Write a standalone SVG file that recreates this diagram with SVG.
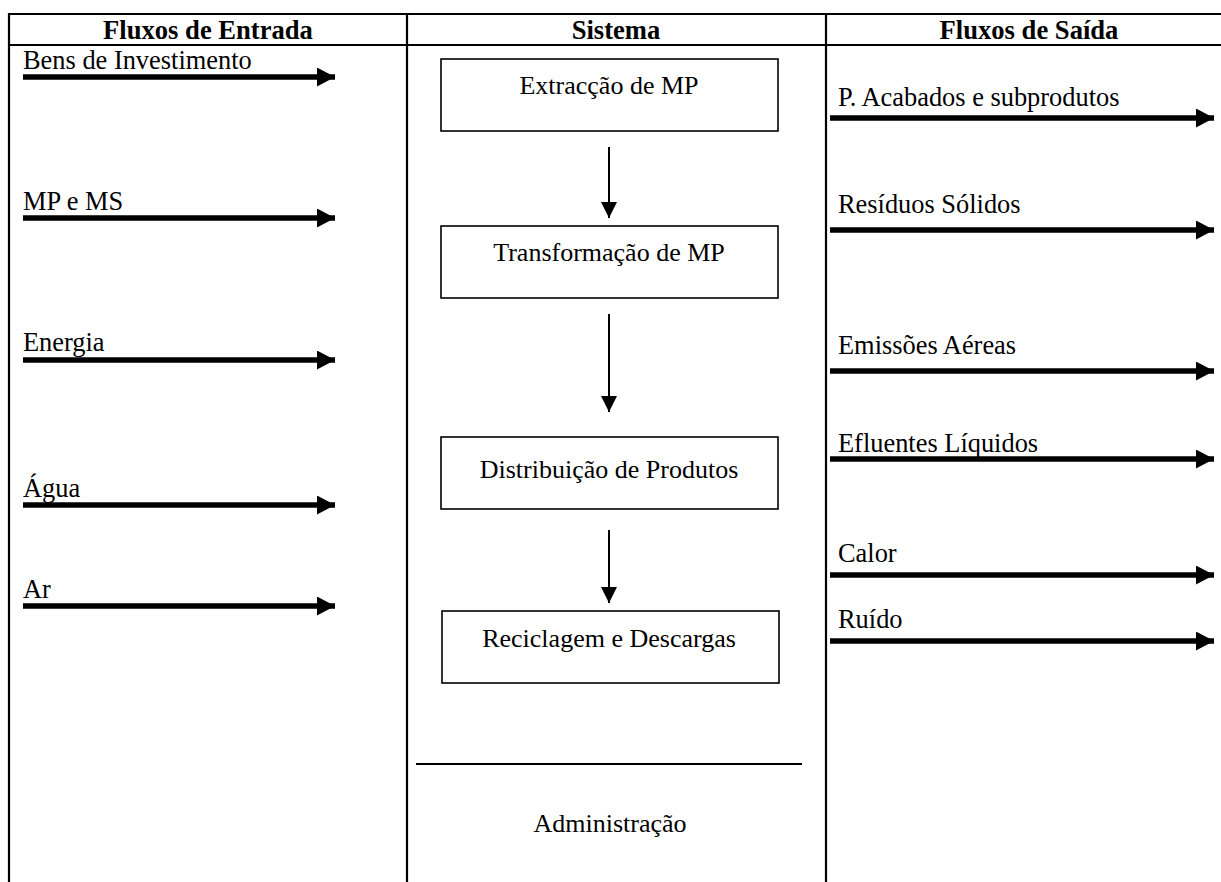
<svg xmlns="http://www.w3.org/2000/svg" width="1221" height="882" viewBox="0 0 1221 882">
<style>
text{font-family:"Liberation Serif","Times New Roman",serif;fill:#000}
.h{font-size:26.6px;font-weight:bold;text-anchor:middle}
.l{font-size:26.4px}
.c{font-size:26px;text-anchor:middle}
.grid{stroke:#000;stroke-width:2.2;fill:none}
.box{stroke:#000;stroke-width:1.6;fill:#fff}
.fat{stroke:#000;stroke-width:5.5}
.thin{stroke:#000;stroke-width:2}
</style>
<defs>
<marker id="big" markerUnits="userSpaceOnUse" markerWidth="18" markerHeight="20" refX="18" refY="9.5" orient="auto"><path d="M0,0 L18,9.5 L0,19 Z" fill="#000"/></marker>
<marker id="small" markerUnits="userSpaceOnUse" markerWidth="16" markerHeight="16" refX="16" refY="8" orient="auto"><path d="M0,0 L16,8 L0,16 Z" fill="#000"/></marker>
</defs>
<rect width="1221" height="882" fill="#fff"/>
<g id="table">
<line class="grid" x1="9" y1="14" x2="1221" y2="14"/>
<line class="grid" x1="9" y1="45" x2="1221" y2="45"/>
<line class="grid" x1="9" y1="13" x2="9" y2="882"/>
<line class="grid" x1="407" y1="13" x2="407" y2="882"/>
<line class="grid" x1="826" y1="13" x2="826" y2="882"/>
<text class="h" x="208" y="39">Fluxos de Entrada</text>
<text class="h" x="616" y="39">Sistema</text>
<text class="h" x="1029" y="39">Fluxos de Saída</text>
</g>
<g id="connectors">
<line class="fat" x1="23" y1="77" x2="335" y2="77" marker-end="url(#big)"/>
<line class="fat" x1="23" y1="218" x2="335" y2="218" marker-end="url(#big)"/>
<line class="fat" x1="23" y1="360" x2="335" y2="360" marker-end="url(#big)"/>
<line class="fat" x1="23" y1="505" x2="335" y2="505" marker-end="url(#big)"/>
<line class="fat" x1="23" y1="606" x2="335" y2="606" marker-end="url(#big)"/>
<line class="fat" x1="830" y1="118" x2="1214" y2="118" marker-end="url(#big)"/>
<line class="fat" x1="830" y1="230" x2="1214" y2="230" marker-end="url(#big)"/>
<line class="fat" x1="830" y1="371" x2="1214" y2="371" marker-end="url(#big)"/>
<line class="fat" x1="830" y1="459" x2="1214" y2="459" marker-end="url(#big)"/>
<line class="fat" x1="830" y1="575" x2="1214" y2="575" marker-end="url(#big)"/>
<line class="fat" x1="830" y1="641" x2="1214" y2="641" marker-end="url(#big)"/>
<line class="thin" x1="609" y1="147" x2="609" y2="218" marker-end="url(#small)"/>
<line class="thin" x1="609" y1="314" x2="609" y2="412" marker-end="url(#small)"/>
<line class="thin" x1="609" y1="530" x2="609" y2="603" marker-end="url(#small)"/>
</g>
<g id="inputs">
<text class="l" x="23" y="69">Bens de Investimento</text>
<text class="l" x="23" y="210">MP e MS</text>
<text class="l" x="23" y="351">Energia</text>
<text class="l" x="23" y="497">Água</text>
<text class="l" x="23" y="598">Ar</text>
</g>
<g id="outputs">
<text class="l" x="838" y="106">P. Acabados e subprodutos</text>
<text class="l" x="838" y="213">Resíduos Sólidos</text>
<text class="l" x="838" y="354">Emissões Aéreas</text>
<text class="l" x="838" y="452">Efluentes Líquidos</text>
<text class="l" x="838" y="562">Calor</text>
<text class="l" x="838" y="628">Ruído</text>
</g>
<g id="n1"><rect class="box" x="441" y="59" width="337" height="72"/><text class="c" x="609" y="94">Extracção de MP</text></g>
<g id="n2"><rect class="box" x="441" y="226" width="337" height="72"/><text class="c" x="609" y="261">Transformação de MP</text></g>
<g id="n3"><rect class="box" x="441" y="437" width="337" height="72"/><text class="c" x="609" y="478">Distribuição de Produtos</text></g>
<g id="n4"><rect class="box" x="442" y="611" width="337" height="72"/><text class="c" x="609" y="647">Reciclagem e Descargas</text></g>
<g id="n5"><line class="thin" x1="416" y1="764" x2="802" y2="764"/><text class="c" x="610" y="832">Administração</text></g>
</svg>
